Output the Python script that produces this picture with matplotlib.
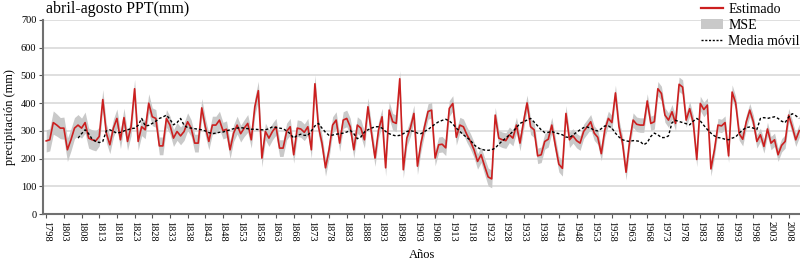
import numpy as np
import matplotlib.pyplot as plt
from matplotlib.lines import Line2D
from matplotlib.patches import Patch

plt.rcParams['font.family'] = ['Liberation Serif', 'DejaVu Serif']

# precipitacion abril-agosto estimada (mm), 1798 en adelante
first_year = 1798
estimado = [
    264, 268, 330, 321, 310, 310, 232, 268, 310, 321,
    310, 330, 274, 268, 264, 280, 413, 292, 250, 310,
    345, 268, 348, 262, 315, 452, 262, 315, 304, 400,
    351, 345, 246, 246, 345, 321, 274, 298, 282, 298,
    333, 310, 256, 256, 383, 315, 262, 321, 321, 339,
    301, 306, 232, 292, 321, 290, 310, 327, 268, 387,
    445, 202, 298, 274, 298, 315, 238, 238, 298, 315,
    214, 310, 307, 295, 315, 232, 470, 315, 256, 167,
    232, 321, 339, 256, 339, 345, 315, 232, 321, 310,
    268, 387, 292, 202, 304, 351, 167, 375, 333,
    327, 488, 160, 274, 310, 363, 173, 256, 315, 370,
    375, 202, 250, 252, 239, 381, 399, 277, 321, 315,
    286, 262, 232, 190, 214, 173, 134, 127, 357, 274,
    268, 265, 286, 274, 321, 256, 333, 401, 315, 304,
    210, 214, 262, 270, 321, 248, 180, 165, 363, 268,
    282, 265, 256, 298, 315, 333, 292, 277, 218, 304,
    345, 330, 437, 315, 256, 151, 262, 339, 324, 321,
    321, 408, 327, 333, 452, 435, 357, 339, 369, 327,
    468, 458, 339, 380, 330, 197, 399, 377, 393, 163,
    232, 321, 318, 330, 210, 440, 401, 290, 270, 333,
    375, 333, 262, 286, 244, 307, 256, 268, 214, 248,
    262, 357, 315, 268, 301,
]

media_movil = [
    None, None, None, None, None, None, None, None, None, 274,
    290, 304, 290, 270, 262, 258, 262, 300, 304, 298,
    292, 295, 300, 304, 308, 310, 320, 345, 318, 320,
    327, 335, 345, 350, 357, 342, 322, 330, 345, 320,
    312, 310, 308, 306, 304, 300, 294, 290, 292, 295,
    296, 300, 304, 308, 310, 312, 310, 308, 306, 306,
    305, 304, 304, 308, 315, 312, 310, 308, 300, 290,
    274, 284, 288, 284, 284, 300, 318, 327, 310, 295,
    284, 285, 288, 290, 292, 296, 302, 290, 272, 278,
    296, 304, 310, 315, 315, 310, 298, 290, 285,
    282, 284, 290, 298, 301, 298, 292, 290, 298, 305,
    315, 325, 333, 338, 342, 336, 325, 310, 298, 286,
    276, 266, 250, 240, 234, 231, 230, 232, 238, 252,
    264, 274, 286, 298, 312, 327, 333, 339, 345, 332,
    318, 304, 294, 295, 298, 293, 290, 286, 278, 276,
    285, 295, 304, 312, 314, 310, 302, 300, 308, 318,
    318, 310, 292, 278, 268, 264, 262, 265, 264, 262,
    250, 258, 280, 292, 286, 276, 276, 282, 330, 338,
    334, 330, 326, 322, 335, 345, 336, 320, 305, 292,
    282, 276, 274, 270, 268, 274, 278, 292, 304, 312,
    314, 310, 305, 345, 348, 345, 348, 351, 345, 335,
    330, 350, 362, 355, 345,
]

mse = [
    40, 40, 42, 40, 38, 40, 42, 40, 38, 38,
    36, 38, 36, 36, 36, 34, 36, 34, 32, 32,
    34, 32, 34, 32, 32, 34, 32, 32, 32, 34,
    32, 32, 32, 32, 32, 32, 30, 32, 32, 32,
    32, 30, 32, 32, 34, 32, 30, 32, 32, 32,
    30, 30, 32, 30, 32, 30, 30, 32, 30, 32,
    34, 32, 30, 30, 30, 30, 30, 30, 30, 30,
    30, 30, 30, 30, 30, 30, 32, 30, 30, 30,
    30, 30, 30, 30, 30, 30, 30, 30, 30, 30,
    30, 32, 30, 30, 30, 30, 30, 30, 30,
    30, 30, 30, 30, 30, 30, 30, 30, 28, 28,
    28, 28, 28, 28, 28, 28, 28, 28, 28, 28,
    28, 28, 28, 28, 28, 30, 32, 32, 28, 28,
    28, 28, 28, 28, 28, 28, 28, 28, 28, 28,
    28, 28, 28, 28, 28, 28, 28, 28, 28, 28,
    26, 26, 26, 26, 26, 26, 26, 26, 26, 26,
    26, 26, 28, 26, 26, 28, 26, 26, 26, 26,
    26, 26, 26, 26, 26, 26, 26, 26, 26, 26,
    26, 26, 26, 26, 26, 26, 26, 26, 26, 26,
    26, 24, 24, 24, 24, 26, 24, 24, 24, 24,
    24, 24, 24, 24, 24, 24, 24, 24, 24, 24,
    24, 24, 24, 24, 24,
]

years = np.arange(first_year, first_year + len(estimado))
est = np.array(estimado, dtype=float)
err = np.array(mse, dtype=float)
ma = np.array([np.nan if v is None else v for v in media_movil], dtype=float)

red = '#cc1f1f'
band = '#c9c9c9'

fig = plt.figure(figsize=(8, 2.66), dpi=100)
ax = fig.add_axes([0.054, 0.195, 0.946, 0.73])

ax.fill_between(years, est - err, est + err, color=band, lw=0, zorder=1)
ax.plot(years, est, color=red, lw=1.2, zorder=3)
ax.plot(years, ma, color='black', lw=1.0, ls=(0, (2, 1.5)), zorder=4)

ax.set_ylim(0, 700)
ax.set_yticks(range(0, 701, 100))
ax.set_xlim(1797.15, 2011.2)
ax.set_xticks(range(1798, 2009, 5))
ax.set_xticklabels([str(y) for y in range(1798, 2009, 5)], rotation=270)

ax.yaxis.grid(True, color='#d9d9d9', lw=1.2, zorder=0)
ax.set_axisbelow(True)
for s in ['top', 'right']:
    ax.spines[s].set_visible(False)
for s in ['left', 'bottom']:
    ax.spines[s].set_color('#707070')
    ax.spines[s].set_linewidth(1.5)
ax.tick_params(axis='both', labelsize=7.5, color='#555555', length=3, width=0.8, pad=2)

fig.text(0.0125, 0.56, 'precipitación (mm)', rotation=90, ha='center', va='center', fontsize=9)
fig.text(0.527, 0.04, 'Años', ha='center', va='center', fontsize=9)
fig.text(0.057, 0.995, 'abril-agosto PPT(mm)', ha='left', va='top', fontsize=11.5)

handles = [Line2D([], [], color=red, lw=1.6),
           Patch(facecolor=band, edgecolor='none'),
           Line2D([], [], color='black', lw=1.0, ls=(0, (1.5, 1.2)))]
fig.legend(handles, ['Estimado', 'MSE', 'Media móvil'], loc='upper right',
           bbox_to_anchor=(1.012, 1.025), frameon=False, fontsize=10,
           handlelength=1.6, handletextpad=0.4, labelspacing=0.2, borderpad=0.2)

fig.savefig('out.png', dpi=100)
